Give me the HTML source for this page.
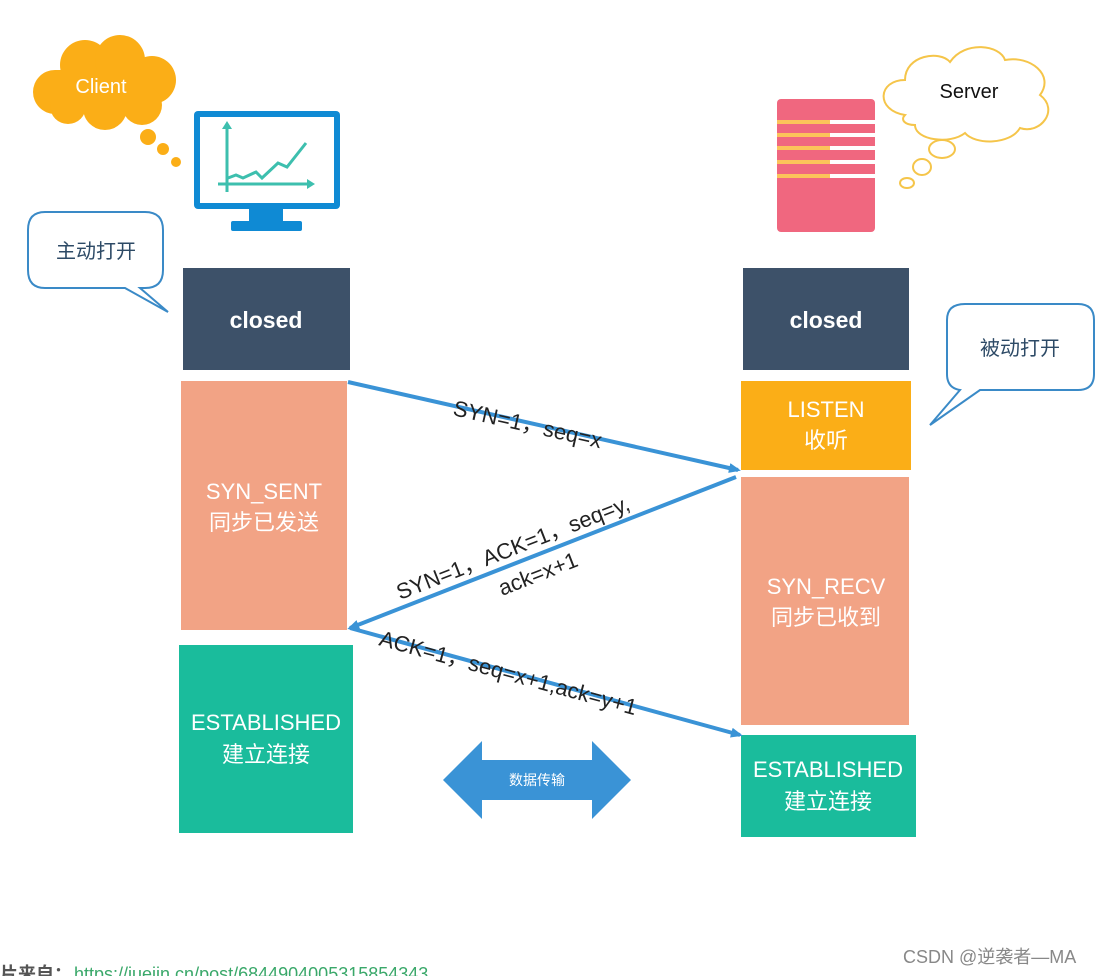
<!DOCTYPE html>
<html><head><meta charset="utf-8"><style>
html,body{margin:0;padding:0;background:#fff;}
svg{display:block}
text{font-family:"Liberation Sans","Noto Sans CJK SC",sans-serif;}
</style></head><body>
<svg width="1097" height="976" viewBox="0 0 1097 976" xmlns="http://www.w3.org/2000/svg">
<defs>
<marker id="ah" markerWidth="12" markerHeight="10" refX="9" refY="5" orient="auto" markerUnits="userSpaceOnUse">
<path d="M0,0 L12,5 L0,10 z" fill="#3a93d6"/></marker>
</defs>
<!-- client cloud -->
<g fill="#fbae17">
<circle cx="55" cy="92" r="22"/><circle cx="85" cy="65" r="25"/><circle cx="120" cy="60" r="25"/><circle cx="152" cy="80" r="24"/><circle cx="142" cy="105" r="20"/><circle cx="105" cy="108" r="22"/><circle cx="68" cy="106" r="18"/><rect x="55" y="70" width="97" height="40"/>
<circle cx="148" cy="137" r="8"/><circle cx="163" cy="149" r="6"/><circle cx="176" cy="162" r="5"/>
</g>
<text x="101" y="93" font-size="20" fill="#fff" text-anchor="middle">Client</text>
<!-- monitor -->
<rect x="194" y="111" width="146" height="98" rx="4" fill="#0f8ad4"/>
<rect x="200" y="117" width="134" height="86" fill="#fff"/>
<rect x="249" y="209" width="34" height="13" fill="#0f8ad4"/>
<rect x="231" y="221" width="71" height="10" rx="2" fill="#0f8ad4"/>
<g stroke="#3dbfae" stroke-width="3" fill="none">
<line x1="227" y1="192" x2="227" y2="125"/><line x1="218" y1="184" x2="312" y2="184"/>
<polyline points="228,178 236,175 243,178 256,172 262,178 278,163 287,167 306,143"/>
</g>
<path d="M227,121 l-5,8 h10z M315,184 l-8,-5 v10z" fill="#3dbfae"/>
<!-- server -->
<rect x="777" y="99" width="98" height="133" rx="4" fill="#f0677f"/>
<g stroke-width="4"><g stroke="#fcc35a">
<line x1="777" y1="122" x2="830" y2="122"/><line x1="777" y1="135" x2="830" y2="135"/><line x1="777" y1="148" x2="830" y2="148"/><line x1="777" y1="162" x2="830" y2="162"/><line x1="777" y1="176" x2="830" y2="176"/></g>
<g stroke="#fff"><line x1="830" y1="122" x2="875" y2="122"/><line x1="830" y1="135" x2="875" y2="135"/><line x1="830" y1="148" x2="875" y2="148"/><line x1="830" y1="162" x2="875" y2="162"/><line x1="830" y1="176" x2="875" y2="176"/></g></g>
<!-- server cloud -->
<g fill="#fff" stroke="#f5c54a" stroke-width="2">
<path d="M905,115 C875,110 878,80 905,80 C905,55 940,50 950,62 C965,40 1000,45 1005,60 C1030,55 1055,75 1040,95 C1060,110 1040,135 1020,128 C1010,145 975,145 965,133 C950,145 915,140 915,125 C905,125 900,120 905,115 Z"/>
<ellipse cx="942" cy="149" rx="13" ry="9"/><ellipse cx="922" cy="167" rx="9" ry="8"/><ellipse cx="907" cy="183" rx="7" ry="5"/>
</g>
<text x="969" y="98" font-size="20" fill="#111" text-anchor="middle">Server</text>
<!-- speech bubbles -->
<path d="M45,212 H145 Q163,212 163,230 V270 Q163,288 145,288 H140 L168,312 L125,288 H45 Q28,288 28,270 V230 Q28,212 45,212 Z" fill="#fff" stroke="#3a8ac7" stroke-width="2"/>
<text x="96" y="258" font-size="20" fill="#2d4a66" text-anchor="middle">主动打开</text>
<path d="M965,304 H1078 Q1094,304 1094,320 V374 Q1094,390 1078,390 H980 L930,425 L960,390 Q947,388 947,374 V320 Q947,304 965,304 Z" fill="#fff" stroke="#3a8ac7" stroke-width="2"/>
<text x="1020" y="355" font-size="20" fill="#2d4a66" text-anchor="middle">被动打开</text>
<!-- left column -->
<rect x="183" y="268" width="167" height="102" fill="#3d5169"/>
<text x="266" y="328" font-size="23" font-weight="bold" fill="#fff" text-anchor="middle">closed</text>
<rect x="181" y="381" width="166" height="249" fill="#f2a385"/>
<text x="264" y="499" font-size="22" fill="#fff" text-anchor="middle">SYN_SENT</text>
<text x="264" y="530" font-size="22" fill="#fff" text-anchor="middle">同步已发送</text>
<rect x="179" y="645" width="174" height="188" fill="#1abc9c"/>
<text x="266" y="730" font-size="22" fill="#fff" text-anchor="middle">ESTABLISHED</text>
<text x="266" y="762" font-size="22" fill="#fff" text-anchor="middle">建立连接</text>
<!-- right column -->
<rect x="743" y="268" width="166" height="102" fill="#3d5169"/>
<text x="826" y="328" font-size="23" font-weight="bold" fill="#fff" text-anchor="middle">closed</text>
<rect x="741" y="381" width="170" height="89" fill="#fbae17"/>
<text x="826" y="417" font-size="22" fill="#fff" text-anchor="middle">LISTEN</text>
<text x="826" y="448" font-size="22" fill="#fff" text-anchor="middle">收听</text>
<rect x="741" y="477" width="168" height="248" fill="#f2a385"/>
<text x="826" y="594" font-size="22" fill="#fff" text-anchor="middle">SYN_RECV</text>
<text x="826" y="625" font-size="22" fill="#fff" text-anchor="middle">同步已收到</text>
<rect x="741" y="735" width="175" height="102" fill="#1abc9c"/>
<text x="828" y="777" font-size="22" fill="#fff" text-anchor="middle">ESTABLISHED</text>
<text x="828" y="809" font-size="22" fill="#fff" text-anchor="middle">建立连接</text>
<!-- arrows -->
<g stroke="#3a93d6" stroke-width="4" fill="none">
<line x1="348" y1="382" x2="738" y2="470" marker-end="url(#ah)"/>
<line x1="736" y1="477" x2="350" y2="628" marker-end="url(#ah)"/>
<line x1="350" y1="628" x2="740" y2="735" marker-end="url(#ah)"/>
</g>
<g font-size="22" fill="#222">
<text transform="translate(452,415) rotate(12.7)">SYN=1，seq=x</text>
<text transform="translate(400,600) rotate(-21.4)">SYN=1，ACK=1，seq=y,</text>
<text transform="translate(502,596) rotate(-21.4)">ack=x+1</text>
<text transform="translate(378,645) rotate(15.3)">ACK=1，seq=x+1,ack=y+1</text>
</g>
<!-- double arrow -->
<path d="M443,780 L482,741 V760 H592 V741 L631,780 L592,819 V800 H482 V819 Z" fill="#3a93d6"/>
<text x="537" y="785" font-size="14" fill="#fff" text-anchor="middle">数据传输</text>
<!-- footer -->
<text x="903" y="963" font-size="18" fill="#888">CSDN @逆袭者—MA</text>
<text x="0" y="980" font-size="18" font-weight="bold" fill="#555">片来自：</text>
<text x="74" y="980" font-size="18" fill="#3aa86a">https://juejin.cn/post/6844904005315854343</text>
</svg>
</body></html>
